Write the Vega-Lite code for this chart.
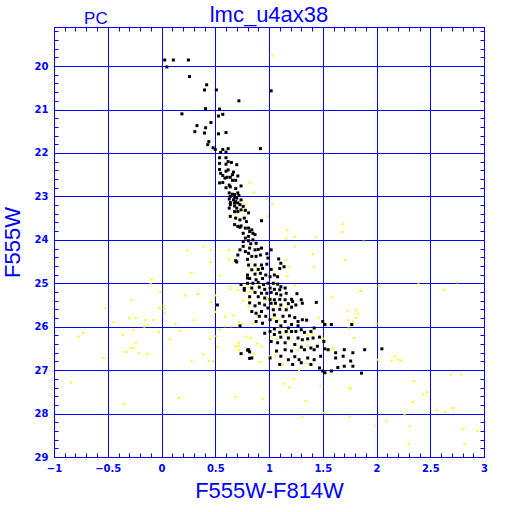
{
"$schema":"https://vega.github.io/schema/vega-lite/v6.json",
"width":430,"height":430,
"autosize":{"type":"none"},
"padding":{"left":54,"top":27,"right":28,"bottom":55},
"background":"white",
"config":{"view":{"stroke":"#0000ff","strokeWidth":1}},
"title":{"text":"lmc_u4ax38","font":"Liberation Sans","fontSize":22,"fontWeight":"normal","color":"#0000ff","anchor":"middle","offset":3,"dy":20},
"datasets":{
"notes":[{"label":"PC","ci":-0.61,"v":19.03}],
"black":[
{"ci":0.03,"v":19.86},{"ci":0.11,"v":19.86},{"ci":0.25,"v":19.86},{"ci":0.05,"v":20.02},{"ci":0.26,"v":20.24},{"ci":0.42,"v":20.43},{"ci":0.40,"v":20.55},{"ci":0.51,"v":20.55},{"ci":1.02,"v":20.57},{"ci":0.72,"v":20.80},{"ci":0.54,"v":20.99},{"ci":0.41,"v":20.98},{"ci":0.19,"v":21.10},{"ci":0.57,"v":21.11},{"ci":0.53,"v":21.15},{"ci":0.46,"v":21.30},{"ci":0.33,"v":21.37},{"ci":0.41,"v":21.42},{"ci":0.31,"v":21.51},{"ci":0.40,"v":21.54},{"ci":0.53,"v":21.56},{"ci":0.60,"v":21.53},{"ci":0.44,"v":21.74},{"ci":0.43,"v":21.81},{"ci":0.48,"v":21.88},{"ci":0.50,"v":21.92},{"ci":0.57,"v":21.92},{"ci":0.62,"v":21.90},{"ci":0.55,"v":21.99},{"ci":0.60,"v":21.98},{"ci":0.92,"v":21.90},{"ci":0.54,"v":22.11},{"ci":0.60,"v":22.11},{"ci":0.62,"v":22.20},{"ci":0.54,"v":22.24},{"ci":0.60,"v":22.26},{"ci":0.65,"v":22.22},{"ci":0.70,"v":22.27},{"ci":0.54,"v":22.38},{"ci":0.62,"v":22.39},{"ci":0.60,"v":22.42},{"ci":0.67,"v":22.44},{"ci":0.55,"v":22.47},{"ci":0.57,"v":22.52},{"ci":0.66,"v":22.50},{"ci":0.71,"v":22.53},{"ci":0.59,"v":22.58},{"ci":0.61,"v":22.56},{"ci":0.64,"v":22.56},{"ci":0.66,"v":22.63},{"ci":0.69,"v":22.63},{"ci":0.54,"v":22.69},{"ci":0.57,"v":22.68},{"ci":0.63,"v":22.74},{"ci":0.60,"v":22.80},{"ci":0.64,"v":22.78},{"ci":0.69,"v":22.82},{"ci":0.74,"v":22.76},
{"ci":0.63,"v":22.92},{"ci":0.66,"v":22.95},{"ci":0.68,"v":22.96},{"ci":0.71,"v":22.92},{"ci":0.64,"v":23.00},{"ci":0.68,"v":23.02},{"ci":0.72,"v":22.98},{"ci":0.70,"v":23.04},{"ci":0.63,"v":23.06},{"ci":0.67,"v":23.08},{"ci":0.69,"v":23.12},{"ci":0.74,"v":23.08},{"ci":0.64,"v":23.14},{"ci":0.68,"v":23.15},{"ci":0.71,"v":23.15},{"ci":0.64,"v":23.19},{"ci":0.68,"v":23.22},{"ci":0.73,"v":23.19},{"ci":0.76,"v":23.23},{"ci":0.63,"v":23.27},{"ci":0.70,"v":23.27},{"ci":0.74,"v":23.31},{"ci":0.78,"v":23.32},{"ci":0.68,"v":23.35},{"ci":0.71,"v":23.35},{"ci":0.81,"v":23.38},{"ci":0.64,"v":23.46},{"ci":0.69,"v":23.50},{"ci":0.77,"v":23.50},{"ci":0.73,"v":23.54},{"ci":0.79,"v":23.58},{"ci":0.68,"v":23.65},{"ci":0.71,"v":23.69},{"ci":0.73,"v":23.71},{"ci":0.74,"v":23.68},{"ci":0.78,"v":23.73},{"ci":0.81,"v":23.73},{"ci":0.84,"v":23.77},{"ci":0.76,"v":23.85},{"ci":0.82,"v":23.81},{"ci":0.85,"v":23.85},{"ci":0.87,"v":23.88},{"ci":0.93,"v":23.56},{"ci":0.81,"v":23.92},{"ci":0.78,"v":23.96},{"ci":0.76,"v":24.04},{"ci":0.81,"v":24.02},{"ci":0.85,"v":24.00},{"ci":0.83,"v":24.09},{"ci":0.88,"v":24.08},{"ci":0.76,"v":24.15},{"ci":0.82,"v":24.19},{"ci":0.87,"v":24.23},{"ci":0.90,"v":24.22},{"ci":0.93,"v":24.19},{"ci":0.73,"v":24.23},{"ci":0.78,"v":24.27},{"ci":0.71,"v":24.35},{"ci":0.81,"v":24.31},{"ci":0.84,"v":24.38},{"ci":0.88,"v":24.38},{"ci":0.92,"v":24.35},{"ci":0.98,"v":24.32},{"ci":1.02,"v":24.23},{"ci":0.99,"v":24.42},{"ci":1.09,"v":24.44},
{"ci":1.11,"v":24.54},{"ci":0.81,"v":24.58},{"ci":0.87,"v":24.58},{"ci":0.93,"v":24.58},{"ci":0.98,"v":24.56},{"ci":0.84,"v":24.69},{"ci":0.90,"v":24.68},{"ci":0.94,"v":24.66},{"ci":1.02,"v":24.68},{"ci":0.80,"v":24.81},{"ci":0.87,"v":24.79},{"ci":0.92,"v":24.77},{"ci":0.97,"v":24.81},{"ci":1.05,"v":24.81},{"ci":1.10,"v":24.66},{"ci":0.82,"v":24.89},{"ci":0.88,"v":24.92},{"ci":0.94,"v":24.89},{"ci":1.01,"v":24.85},{"ci":1.08,"v":24.85},{"ci":0.80,"v":25.00},{"ci":0.85,"v":25.00},{"ci":0.90,"v":24.98},{"ci":0.95,"v":25.03},{"ci":0.99,"v":25.00},{"ci":1.04,"v":25.00},{"ci":1.08,"v":25.02},{"ci":1.11,"v":25.08},{"ci":0.84,"v":25.11},{"ci":0.91,"v":25.09},{"ci":0.96,"v":25.14},{"ci":1.01,"v":25.11},{"ci":1.05,"v":25.14},{"ci":1.10,"v":25.15},{"ci":1.15,"v":25.11},{"ci":0.87,"v":25.21},{"ci":0.93,"v":25.23},{"ci":0.98,"v":25.23},{"ci":1.02,"v":25.21},{"ci":1.07,"v":25.24},{"ci":1.11,"v":25.27},{"ci":1.16,"v":25.23},{"ci":0.82,"v":25.31},{"ci":0.90,"v":25.31},{"ci":0.96,"v":25.34},{"ci":1.01,"v":25.37},{"ci":1.05,"v":25.38},{"ci":1.10,"v":25.37},{"ci":1.15,"v":25.38},{"ci":1.21,"v":25.37},{"ci":1.26,"v":25.24},{"ci":1.30,"v":25.38},{"ci":1.31,"v":25.46},{"ci":1.22,"v":25.42},{"ci":1.25,"v":25.50},{"ci":1.18,"v":25.47},{"ci":1.11,"v":25.50},{"ci":1.06,"v":25.46},{"ci":1.02,"v":25.46},{"ci":0.96,"v":25.50},{"ci":0.91,"v":25.46},{"ci":0.87,"v":25.52},{"ci":1.21,"v":25.55},{"ci":1.16,"v":25.61},{"ci":1.10,"v":25.60},{"ci":1.04,"v":25.61},{"ci":0.99,"v":25.57},{"ci":0.93,"v":25.65},{"ci":0.88,"v":25.69},{"ci":0.84,"v":25.65},{"ci":0.91,"v":25.76},{"ci":0.97,"v":25.76},{"ci":1.05,"v":25.73},{"ci":1.13,"v":25.76},{"ci":1.19,"v":25.75},{"ci":1.24,"v":25.79},{"ci":1.27,"v":25.88},{"ci":1.31,"v":25.84},{"ci":1.35,"v":25.85},{"ci":1.15,"v":25.88},{"ci":1.07,"v":25.88},{"ci":1.01,"v":25.84},{"ci":0.94,"v":25.92},{"ci":0.88,"v":25.88},{"ci":1.21,"v":25.95},{"ci":1.18,"v":26.03},{"ci":1.11,"v":25.98},{"ci":1.05,"v":26.05},{"ci":1.27,"v":25.98},{"ci":1.44,"v":25.44},{"ci":1.01,"v":26.11},{"ci":1.05,"v":26.18},{"ci":1.10,"v":26.13},{"ci":1.16,"v":26.11},{"ci":1.21,"v":26.11},{"ci":1.25,"v":26.11},{"ci":1.30,"v":26.07},{"ci":1.33,"v":26.13},{"ci":1.39,"v":26.11},{"ci":1.42,"v":26.03},{"ci":0.96,"v":26.15},{"ci":1.11,"v":26.24},{"ci":1.18,"v":26.26},{"ci":1.27,"v":26.26},{"ci":1.31,"v":26.30},{"ci":1.36,"v":26.28},{"ci":1.41,"v":26.26},{"ci":1.47,"v":26.24},{"ci":1.51,"v":26.34},{"ci":1.02,"v":26.34},{"ci":1.08,"v":26.37},{"ci":1.15,"v":26.37},{"ci":1.24,"v":26.41},{"ci":1.30,"v":26.47},{"ci":1.39,"v":26.49},{"ci":1.45,"v":26.45},{"ci":1.52,"v":26.51},{"ci":1.55,"v":26.53},{"ci":1.48,"v":26.68},{"ci":1.42,"v":26.53},{"ci":1.33,"v":26.53},{"ci":1.21,"v":26.56},{"ci":1.15,"v":26.53},{"ci":1.07,"v":26.56},{"ci":0.81,"v":26.53},{"ci":0.84,"v":26.72},{"ci":1.01,"v":26.72},{"ci":1.11,"v":26.68},{"ci":1.18,"v":26.76},{"ci":1.24,"v":26.69},{"ci":1.28,"v":26.76},{"ci":1.36,"v":26.72},{"ci":1.42,"v":26.76},{"ci":1.10,"v":26.87},{"ci":1.22,"v":26.87},{"ci":1.30,"v":26.83},{"ci":1.39,"v":26.87},{"ci":1.47,"v":26.95},{"ci":1.50,"v":27.02},{"ci":1.52,"v":27.06},{"ci":1.58,"v":27.02},{"ci":1.62,"v":26.60},{"ci":1.62,"v":26.72},{"ci":1.69,"v":26.68},{"ci":1.70,"v":26.53},{"ci":1.78,"v":26.60},{"ci":1.76,"v":26.79},{"ci":1.78,"v":26.91},{"ci":1.70,"v":26.91},{"ci":1.52,"v":25.95},{"ci":1.58,"v":25.95},{"ci":1.50,"v":25.88},
{"ci":0.70,"v":24.51},{"ci":0.77,"v":25.16},{"ci":0.82,"v":25.45},{"ci":0.82,"v":26.58},{"ci":1.14,"v":24.62},
{"ci":0.69,"v":24.48},{"ci":0.80,"v":24.45},{"ci":0.80,"v":24.88},{"ci":0.74,"v":25.03},{"ci":0.77,"v":25.12},{"ci":0.52,"v":25.50},{"ci":0.73,"v":25.98},{"ci":0.80,"v":26.54},{"ci":0.74,"v":26.62},{"ci":0.82,"v":26.73},
{"ci":1.77,"v":25.95},{"ci":1.64,"v":26.94},{"ci":2.05,"v":26.51},{"ci":1.89,"v":26.53},{"ci":1.86,"v":27.07}
],
"yellow":[
{"ci":1.03,"v":19.76},{"ci":0.82,"v":22.68},
{"ci":0.86,"v":22.91},{"ci":0.98,"v":23.06},{"ci":1.03,"v":23.17},{"ci":0.78,"v":23.17},{"ci":0.76,"v":23.32},{"ci":0.68,"v":23.40},{"ci":0.72,"v":23.55},{"ci":0.99,"v":23.46},{"ci":0.39,"v":24.15},{"ci":0.46,"v":24.23},{"ci":0.63,"v":24.23},{"ci":0.63,"v":24.45},
{"ci":1.17,"v":23.78},{"ci":1.16,"v":23.97},{"ci":1.24,"v":23.93},{"ci":1.44,"v":23.93},{"ci":1.69,"v":23.64},{"ci":1.68,"v":23.82},{"ci":1.24,"v":24.15},{"ci":1.41,"v":24.33},{"ci":1.42,"v":24.62},{"ci":1.71,"v":24.47},{"ci":1.16,"v":24.47},{"ci":1.18,"v":24.62},{"ci":1.17,"v":24.84},{"ci":1.08,"v":24.82},{"ci":1.03,"v":24.69},{"ci":0.82,"v":24.64},{"ci":0.89,"v":24.72},{"ci":0.68,"v":24.49},{"ci":0.46,"v":24.51},{"ci":0.24,"v":24.24},{"ci":0.28,"v":24.76},{"ci":0.54,"v":24.82},{"ci":-0.09,"v":24.91},{"ci":-0.10,"v":25.02},{"ci":-0.01,"v":25.20},{"ci":0.64,"v":25.07},{"ci":0.64,"v":25.14},{"ci":0.71,"v":25.16},{"ci":0.81,"v":25.08},{"ci":0.90,"v":25.05},{"ci":0.82,"v":25.20},{"ci":0.85,"v":25.16},{"ci":0.99,"v":25.35},{"ci":0.97,"v":25.39},{"ci":0.81,"v":25.35},{"ci":0.76,"v":25.41},{"ci":0.81,"v":25.54},{"ci":1.02,"v":25.47},{"ci":1.03,"v":25.62},{"ci":1.10,"v":25.51},{"ci":1.17,"v":25.54},{"ci":1.24,"v":25.05},{"ci":0.22,"v":25.28},{"ci":0.34,"v":25.25},{"ci":0.46,"v":25.43},{"ci":0.50,"v":25.28},{"ci":-0.02,"v":25.57},{"ci":0.02,"v":25.51},{"ci":0.02,"v":25.58},{"ci":0.03,"v":25.68},{"ci":-0.08,"v":25.85},{"ci":0.13,"v":25.94},{"ci":0.30,"v":25.85},{"ci":0.50,"v":25.66},{"ci":0.59,"v":25.77},{"ci":0.67,"v":25.74},{"ci":0.72,"v":25.89},{"ci":0.59,"v":25.99},{"ci":0.65,"v":25.99},{"ci":0.72,"v":25.99},{"ci":0.75,"v":25.93},{"ci":0.85,"v":25.93},{"ci":0.89,"v":25.74},{"ci":0.97,"v":25.77},{"ci":1.04,"v":25.81},{"ci":1.09,"v":25.85},{"ci":1.10,"v":26.04},{"ci":1.16,"v":26.16},{"ci":1.19,"v":26.31},{"ci":1.02,"v":26.23},{"ci":1.07,"v":26.27},{"ci":1.46,"v":25.79},{"ci":1.59,"v":25.31},{"ci":1.73,"v":25.64},{"ci":1.74,"v":25.85},{"ci":1.74,"v":26.04},{"ci":1.50,"v":26.27},{"ci":1.59,"v":26.50},{"ci":1.60,"v":26.50},{"ci":1.36,"v":26.20},{"ci":1.40,"v":26.16},{"ci":1.36,"v":26.44},{"ci":-0.02,"v":26.12},{"ci":0.08,"v":26.29},{"ci":0.17,"v":26.10},{"ci":0.51,"v":26.22},{"ci":0.54,"v":26.07},{"ci":0.45,"v":26.28},{"ci":0.52,"v":26.46},{"ci":0.72,"v":26.37},{"ci":0.72,"v":26.45},{"ci":0.69,"v":26.46},{"ci":0.72,"v":26.54},{"ci":0.79,"v":26.23},{"ci":0.83,"v":26.26},{"ci":0.89,"v":26.39},{"ci":0.93,"v":26.46},{"ci":0.86,"v":26.62},{"ci":1.01,"v":26.68},{"ci":1.06,"v":26.68},{"ci":1.13,"v":26.87},{"ci":1.27,"v":26.54},{"ci":1.36,"v":26.85},{"ci":0.39,"v":26.64},{"ci":0.44,"v":26.79},{"ci":0.48,"v":26.79},{"ci":0.28,"v":26.79},{"ci":0.92,"v":26.81},{"ci":1.28,"v":27.00},{"ci":1.23,"v":27.21},
{"ci":-0.28,"v":25.38},{"ci":-0.52,"v":25.58},{"ci":-0.45,"v":25.89},{"ci":-0.30,"v":25.80},{"ci":-0.24,"v":25.80},{"ci":-0.15,"v":25.85},{"ci":-0.16,"v":26.00},{"ci":-0.13,"v":25.98},{"ci":-0.26,"v":26.08},{"ci":-0.36,"v":26.19},{"ci":-0.73,"v":26.14},{"ci":-0.77,"v":26.23},{"ci":-0.24,"v":26.37},{"ci":-0.29,"v":26.49},{"ci":-0.26,"v":26.49},{"ci":-0.33,"v":26.58},{"ci":-0.21,"v":26.60},{"ci":-0.13,"v":26.63},{"ci":-0.54,"v":26.72},{"ci":-0.84,"v":27.28},{"ci":-0.35,"v":27.78},{"ci":0.16,"v":27.64},{"ci":0.69,"v":27.62},
{"ci":1.88,"v":24.04},{"ci":2.02,"v":25.07},{"ci":2.39,"v":24.99},{"ci":2.63,"v":25.15},{"ci":2.75,"v":24.98},{"ci":1.85,"v":25.18},{"ci":1.86,"v":25.18},{"ci":1.81,"v":25.62},{"ci":1.83,"v":25.70},{"ci":1.81,"v":25.80},{"ci":1.78,"v":25.88},{"ci":1.79,"v":26.26},{"ci":2.00,"v":25.93},{"ci":2.01,"v":26.76},{"ci":2.14,"v":26.78},{"ci":2.17,"v":26.68},{"ci":2.20,"v":26.76},{"ci":2.23,"v":26.78},{"ci":1.14,"v":27.31},{"ci":1.19,"v":27.40},{"ci":1.34,"v":27.71},{"ci":1.48,"v":27.36},{"ci":1.51,"v":27.98},{"ci":1.31,"v":28.07},{"ci":1.75,"v":27.42},{"ci":1.76,"v":27.42},{"ci":1.75,"v":28.07},{"ci":2.35,"v":27.25},{"ci":2.69,"v":27.10},{"ci":2.79,"v":27.10},{"ci":2.43,"v":27.56},{"ci":2.47,"v":27.51},{"ci":2.34,"v":27.73},{"ci":2.56,"v":27.92},{"ci":2.64,"v":27.96},{"ci":2.71,"v":27.87},{"ci":2.26,"v":28.03},{"ci":2.09,"v":28.16},{"ci":2.31,"v":28.30},{"ci":1.99,"v":28.28},{"ci":2.81,"v":28.35},{"ci":2.94,"v":28.40},{"ci":2.30,"v":28.71},{"ci":2.82,"v":28.71},
{"ci":0.94,"v":27.67}
]
},
"layer":[
{"data":{"name":"yellow"},
 "mark":{"type":"square","size":4,"color":"#ffff00","opacity":1,"strokeWidth":0},
 "encoding":{
  "x":{"field":"ci","type":"quantitative","scale":{"domain":[-1,3],"nice":false,"zero":false},
   "axis":{"orient":"bottom","values":[-1,-0.9,-0.8,-0.7,-0.6,-0.5,-0.4,-0.3,-0.2,-0.1,0,0.1,0.2,0.3,0.4,0.5,0.6,0.7,0.8,0.9,1,1.1,1.2,1.3,1.4,1.5,1.6,1.7,1.8,1.9,2,2.1,2.2,2.3,2.4,2.5,2.6,2.7,2.8,2.9,3],
    "labelExpr":"abs(datum.value*2 - round(datum.value*2)) < 0.01 ? format(datum.value, '~g') : ''",
    "labelOverlap":false,"labelFlush":false,"labelColor":"#0000ff","labelFont":"DejaVu Sans","labelFontWeight":"bold","labelFontSize":10,"labelPadding":10,
    "tickSize":-4,"tickColor":"#0000ff","tickWidth":1,"domainColor":"#0000ff","domainWidth":1,
    "grid":true,"gridColor":"#0000ff","gridWidth":1,"gridOpacity":{"condition":{"test":"abs(datum.value*2 - round(datum.value*2)) < 0.01","value":1},"value":0},
    "title":"F555W-F814W","titleFont":"Liberation Sans","titleFontSize":22,"titleFontWeight":"normal","titleColor":"#0000ff","titlePadding":7}},
  "y":{"field":"v","type":"quantitative","scale":{"domain":[19.1,29],"reverse":true,"nice":false,"zero":false},
   "axis":{"orient":"left","values":[19.2,19.4,19.6,19.8,20,20.2,20.4,20.6,20.8,21,21.2,21.4,21.6,21.8,22,22.2,22.4,22.6,22.8,23,23.2,23.4,23.6,23.8,24,24.2,24.4,24.6,24.8,25,25.2,25.4,25.6,25.8,26,26.2,26.4,26.6,26.8,27,27.2,27.4,27.6,27.8,28,28.2,28.4,28.6,28.8,29],
    "labelExpr":"abs(datum.value - round(datum.value)) < 0.01 ? format(datum.value, 'd') : ''",
    "labelOverlap":false,"labelFlush":false,"labelColor":"#0000ff","labelFont":"DejaVu Sans","labelFontWeight":"bold","labelFontSize":10,"labelPadding":10,
    "tickSize":-4,"tickColor":"#0000ff","tickWidth":1,"domainColor":"#0000ff","domainWidth":1,
    "grid":true,"gridColor":"#0000ff","gridWidth":1,"gridOpacity":{"condition":{"test":"abs(datum.value - round(datum.value)) < 0.01","value":1},"value":0},
    "title":"F555W","titleFont":"Liberation Sans","titleFontSize":22,"titleFontWeight":"normal","titleColor":"#0000ff","titlePadding":10}}
 }},
{"data":{"name":"black"},
 "mark":{"type":"square","size":9,"color":"#000000","opacity":1,"strokeWidth":0},
 "encoding":{
  "x":{"field":"ci","type":"quantitative","scale":{"domain":[-1,3],"nice":false,"zero":false},
   "axis":{"orient":"top","values":[-1,-0.9,-0.8,-0.7,-0.6,-0.5,-0.4,-0.3,-0.2,-0.1,0,0.1,0.2,0.3,0.4,0.5,0.6,0.7,0.8,0.9,1,1.1,1.2,1.3,1.4,1.5,1.6,1.7,1.8,1.9,2,2.1,2.2,2.3,2.4,2.5,2.6,2.7,2.8,2.9,3],
    "labels":false,"grid":false,"title":null,"tickSize":-4,"tickColor":"#0000ff","tickWidth":1,"domainColor":"#0000ff","domainWidth":1}},
  "y":{"field":"v","type":"quantitative","scale":{"domain":[19.1,29],"reverse":true,"nice":false,"zero":false},
   "axis":{"orient":"right","values":[19.2,19.4,19.6,19.8,20,20.2,20.4,20.6,20.8,21,21.2,21.4,21.6,21.8,22,22.2,22.4,22.6,22.8,23,23.2,23.4,23.6,23.8,24,24.2,24.4,24.6,24.8,25,25.2,25.4,25.6,25.8,26,26.2,26.4,26.6,26.8,27,27.2,27.4,27.6,27.8,28,28.2,28.4,28.6,28.8,29],
    "labels":false,"grid":false,"title":null,"tickSize":-4,"tickColor":"#0000ff","tickWidth":1,"domainColor":"#0000ff","domainWidth":1}}
 }},
{"data":{"name":"notes"},
 "mark":{"type":"text","font":"Liberation Sans","fontSize":17,"color":"#0000ff","baseline":"alphabetic","align":"center"},
 "encoding":{
  "x":{"field":"ci","type":"quantitative","axis":null,"scale":{"domain":[-1,3],"nice":false,"zero":false}},
  "y":{"field":"v","type":"quantitative","axis":null,"scale":{"domain":[19.1,29],"reverse":true,"nice":false,"zero":false}},
  "text":{"field":"label"}
 }}
],
"resolve":{"axis":{"x":"independent","y":"independent"}}
}
